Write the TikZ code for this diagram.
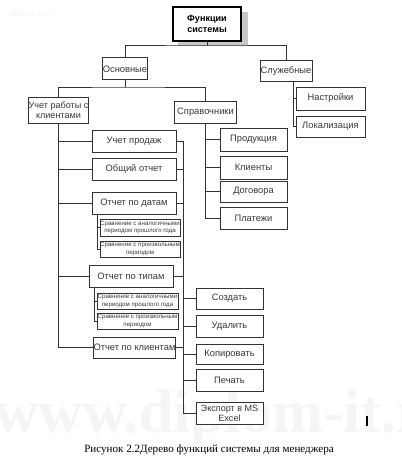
\documentclass[tikz,border=0pt]{standalone}
\usepackage{fontspec}
\setmainfont{Liberation Sans}
\newfontfamily\capfont{Liberation Serif}
\begin{document}
\begin{tikzpicture}[x=0.75pt,y=-0.75pt,
  line width=0.75pt,
  sz/.style 2 args={minimum width=#1*0.75pt, minimum height=#2*0.75pt},
  box/.style={draw=black!80, fill=white, inner sep=0pt, outer sep=0pt, align=center,
              text=black!78, font=\fontsize{7}{7.6}\selectfont},
  sbox/.style={box, font=\fontsize{4.6}{5.3}\selectfont},
  conn/.style={draw=black!80, line width=0.75pt},
]
\useasboundingbox (0,0) rectangle (402,460);
% watermarks
\node[anchor=base west, inner sep=0pt, text=black!4, font=\capfont\bfseries\fontsize{46}{46}\selectfont] (wm) at (-6,432) {www.diplom-it.ru};
\node[anchor=west, inner sep=0pt, text=black!4, font=\fontsize{6.5}{7}\selectfont] (wm2) at (10,14) {diplom-it.ru};
% top box with shadow
\fill[black!22] (178,12) rectangle (247.5,46.5);
\node[box, sz={68}{34}, draw=black, line width=1.5pt, text=black,
      font=\bfseries\fontsize{6.8}{8.2}\selectfont] (top) at (207,24) {Функции\\системы};
% level 1
\node[box, sz={44}{22}] (osn) at (125,69) {Основные};
\node[box, sz={52}{21}] (sluzh) at (286,71.5) {Служебные};
\node[box, sz={69}{23}] (nastr) at (330.5,98.5) {Настройки};
\node[box, sz={69}{21}] (lokal) at (330.5,126.5) {Локализация};
% level 2
\node[box, sz={59}{26}, font=\fontsize{6.8}{7.5}\selectfont] (uchr) at (58.5,110) {Учет работы с\\клиентами};
\node[box, sz={62}{22}] (sprav) at (205.5,112) {Справочники};
\node[box, sz={67}{23}] (prod) at (253.5,139.5) {Продукция};
\node[box, sz={67}{23}] (klient) at (253.5,167.5) {Клиенты};
\node[box, sz={67}{21}] (dogov) at (253.5,191.5) {Договора};
\node[box, sz={67}{22}] (plat) at (253.5,218) {Платежи};
% reports
\node[box, sz={84}{22}] (uprod) at (134,141) {Учет продаж};
\node[box, sz={84}{22}] (obsh) at (134,169) {Общий отчет};
\node[box, sz={84}{22}] (pdat) at (134,203) {Отчет по датам};
\node[sbox, sz={80}{17}] (s1) at (140,227.5) {Сравнение с аналогичными\\периодом прошлого года};
\node[sbox, sz={80}{16}] (s2) at (140,249) {Сравнение с произвольным\\периодом};
\node[box, sz={84}{22}] (ptip) at (131,276) {Отчет по типам};
\node[sbox, sz={81}{16}] (s3) at (137.5,301) {Сравнение с аналогичными\\периодом прошлого года};
\node[sbox, sz={81}{16}] (s4) at (137.5,321) {Сравнение с произвольным\\периодом};
\node[box, sz={81}{21}] (pkl) at (134.5,347.5) {Отчет по клиентам};
% actions
\node[box, sz={67}{21}] (sozd) at (229.5,298.5) {Создать};
\node[box, sz={67}{22}] (udal) at (229.5,326) {Удалить};
\node[box, sz={67}{20}] (kop) at (229.5,354) {Копировать};
\node[box, sz={67}{22}] (pech) at (229.5,380) {Печать};
\node[box, sz={67}{22}, font=\fontsize{6.8}{7.5}\selectfont] (exp) at (229.5,413) {Экспорт в MS\\Excel};
% junction coordinates
\coordinate (j1) at (207,46);
\coordinate (j2) at (125,87);
\coordinate (js) at (293,82);
\coordinate (jd) at (97,214);
\coordinate (jt) at (94,287);
\coordinate (rt) at (183,141);
% connectors
\draw[conn] (top.south) -- (j1);
\draw[conn] (osn.north) |- (j1) -| (sluzh.north);
\draw[conn] (osn.south) -- (j2);
\draw[conn] (uchr.north) |- (j2) -| (sprav.north);
\draw[conn] (js) |- (nastr.west);
\draw[conn] (js) |- (lokal.west);
\foreach \n in {prod,klient,dogov,plat} \draw[conn] (sprav.south) |- (\n.west);
\foreach \n in {uprod,obsh,pdat,ptip,pkl} \draw[conn] (uchr.south) |- (\n.west);
\draw[conn] (jd) |- (s1.west);
\draw[conn] (jd) |- (s2.west);
\draw[conn] (jt) |- (s3.west);
\draw[conn] (jt) |- (s4.west);
\draw[conn] (uprod.east) -- (rt) |- (exp.west);
\foreach \n in {obsh,pdat,ptip,pkl} \draw[conn] (\n.east) -- (\n.east -| rt);
\foreach \n in {sozd,udal,kop,pech} \draw[conn] (rt) |- (\n.west);
% stray mark
\draw[line width=1.1pt] (367,416) -- (367,426);
% caption
\node[inner sep=0pt, font=\capfont\fontsize{8.3}{10}\selectfont] (cap) at (209,450) {Рисунок 2.2Дерево функций системы для менеджера};
\end{tikzpicture}
\end{document}
